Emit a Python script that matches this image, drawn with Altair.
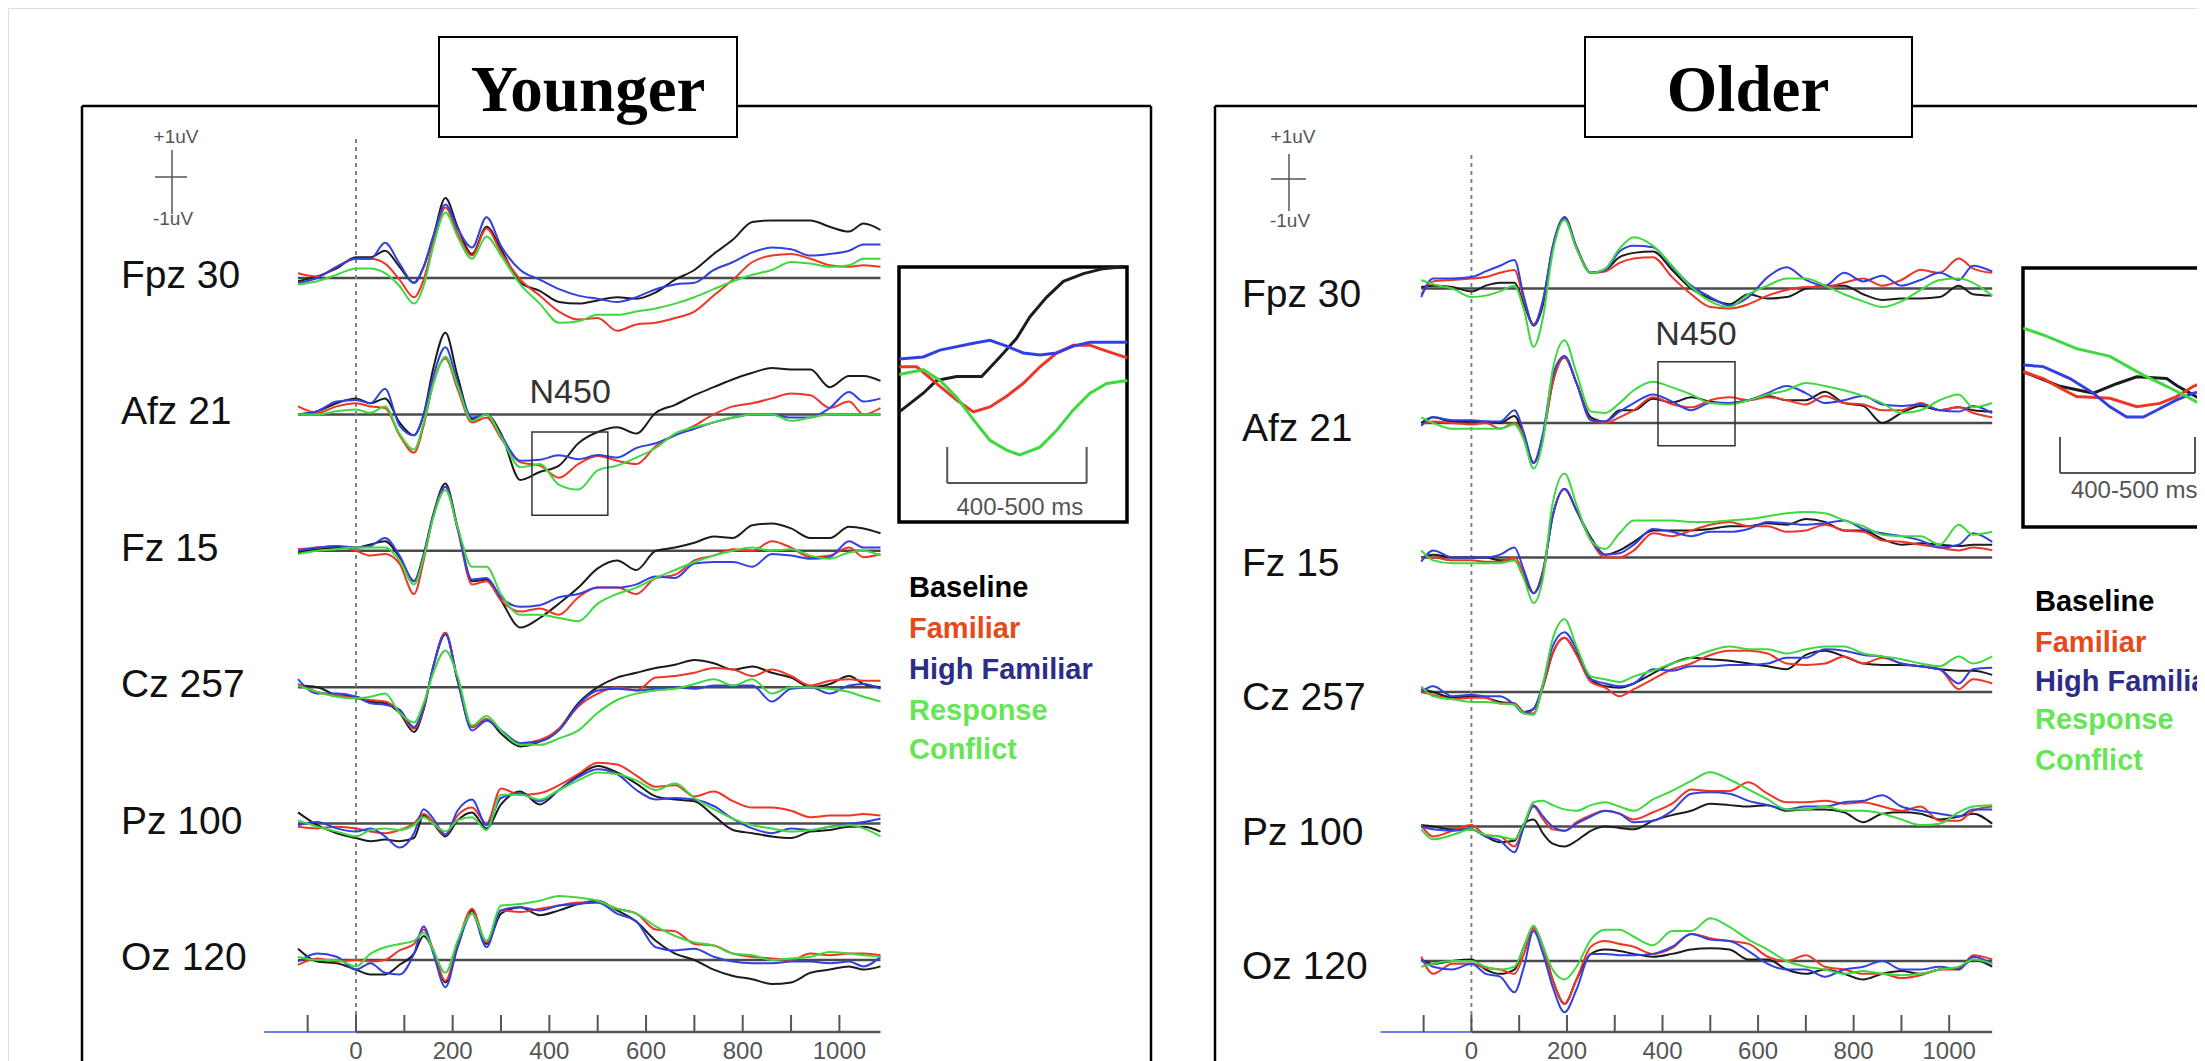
import altair as alt
import pandas as pd

# ---------------------------------------------------------------- labels
CONDITIONS = ["Baseline", "Familiar", "High Familiar", "Response Conflict"]
LINE_COLORS = ["#1c1c1c", "#ee3526", "#3340e0", "#3fd83f"]
LEGEND_TEXT = ["Baseline", "Familiar", "High Familiar", "Response", "Conflict"]
LEGEND_COLORS = ["#000000", "#e64a19", "#2d2d86", "#66e655", "#66e655"]
CHANNELS = ["Fpz 30", "Afz 21", "Fz 15", "Cz 257", "Pz 100", "Oz 120"]
PANEL_TITLES = ["Younger", "Older"]
TICKS = [-100, 0, 100, 200, 300, 400, 500, 600, 700, 800, 900, 1000]
TICK_LABELS = [0, 200, 400, 600, 800, 1000]
WINDOW_LABEL = "400-500 ms"
COMPONENT = "N450"

# ---------------------------------------------------------------- time grids (ms)
T_YOUNGER = [-120, -80, -40, 0, 30, 60, 90, 120, 140, 160, 185, 210, 240, 270, 300, 340, 380, 420,
             460, 500, 540, 580, 620, 660, 700, 740, 780, 820, 860, 900, 940, 980, 1020, 1050, 1085]
T_OLDER = [-105, -80, -40, 0, 30, 60, 90, 110, 130, 150, 170, 195, 220, 250, 280, 310, 340, 380,
           420, 460, 500, 540, 580, 620, 660, 700, 740, 780, 820, 860, 900, 940, 980, 1020, 1050, 1090]

# ---------------------------------------------------------------- Younger (uV)
YNG_FPZ_BL = [-0.1, 0.05, 0.3, 0.65, 0.65, 0.85, 0.35, -0.15, 0.35, 1.3, 2.5, 1.6, 0.75, 1.6, 0.9, -0.15, -0.4, -0.75, -0.8, -0.7, -0.6, -0.65, -0.45, -0.05, 0.25, 0.75, 1.2, 1.75, 1.8, 1.8, 1.8, 1.6, 1.45, 1.7, 1.5]
YNG_FPZ_FA = [0.15, 0.05, 0.35, 0.6, 0.6, 0.45, -0.05, -0.6, -0.05, 1.1, 2.2, 1.4, 0.7, 1.55, 0.8, -0.05, -0.55, -1.05, -1.3, -1.25, -1.65, -1.45, -1.4, -1.25, -1.05, -0.55, -0.05, 0.5, 0.7, 0.75, 0.6, 0.4, 0.35, 0.4, 0.35]
YNG_FPZ_HF = [-0.15, 0, 0.35, 0.6, 0.6, 1.1, 0.45, -0.15, 0.35, 1.3, 2.3, 1.55, 0.95, 1.9, 1.0, 0.25, -0.05, -0.35, -0.55, -0.65, -0.75, -0.6, -0.35, -0.2, -0.15, 0.25, 0.5, 0.8, 0.95, 0.9, 0.7, 0.75, 0.85, 1.05, 1.05]
YNG_FPZ_RC = [-0.2, -0.1, 0.1, 0.3, 0.3, 0.15, -0.25, -0.8, -0.25, 1.0, 2.05, 1.3, 0.6, 1.3, 0.7, -0.2, -0.8, -1.4, -1.35, -1.15, -1.15, -1.05, -0.95, -0.8, -0.6, -0.35, -0.1, 0.1, 0.25, 0.5, 0.45, 0.35, 0.4, 0.6, 0.6]

YNG_AFZ_BL = [0, 0.1, 0.35, 0.5, 0.35, 0.5, -0.25, -0.65, 0, 1.45, 2.55, 1.2, -0.15, 0, -0.6, -2.05, -1.8, -1.6, -0.9, -0.55, -0.4, -0.6, 0.05, 0.3, 0.6, 0.85, 1.1, 1.3, 1.45, 1.4, 1.4, 0.85, 1.2, 1.2, 1.05]
YNG_AFZ_FA = [0.25, 0.05, 0.25, 0.35, 0.25, 0.2, -0.65, -1.2, -0.35, 1.0, 1.75, 0.8, -0.25, -0.1, -0.75, -1.5, -1.6, -1.98, -1.55, -1.3, -1.45, -1.55, -1.0, -0.65, -0.35, 0, 0.25, 0.35, 0.5, 0.65, 0.6, 0.2, 0.4, 0, 0.2]
YNG_AFZ_HF = [0, 0.1, 0.4, 0.45, 0.35, 0.8, -0.35, -0.65, 0, 1.2, 2.1, 1.0, -0.1, 0, -0.65, -1.45, -1.42, -1.28, -1.4, -1.27, -1.35, -1.05, -0.9, -0.65, -0.45, -0.25, -0.1, 0, 0, -0.1, -0.1, 0.2, 0.7, 0.4, 0.5]
YNG_AFZ_RC = [0, 0, 0.1, 0.15, 0.05, 0.25, -0.6, -1.1, -0.25, 0.95, 1.8, 0.9, -0.2, 0, -0.7, -1.65, -1.55, -2.2, -2.35, -1.75, -1.6, -1.35, -1.05, -0.6, -0.4, -0.25, -0.1, 0, 0, -0.2, -0.1, 0, 0, 0, 0]

YNG_FZ_BL = [-0.05, 0.05, 0.1, 0.1, 0.2, 0.3, -0.2, -0.95, -0.1, 1.15, 2.1, 0.75, -0.95, -0.9, -1.55, -2.4, -2.1, -1.65, -1.15, -0.55, -0.3, -0.6, 0, 0.1, 0.25, 0.45, 0.4, 0.8, 0.85, 0.7, 0.4, 0.4, 0.75, 0.7, 0.55]
YNG_FZ_FA = [0.05, 0.1, 0.15, 0, -0.15, -0.1, -0.4, -1.35, -0.3, 1.1, 2.0, 0.7, -1.05, -0.95, -1.55, -1.9, -1.8, -2.0, -1.45, -1.15, -1.15, -1.35, -0.85, -0.75, -0.3, -0.15, 0.05, 0, 0.3, 0.1, -0.2, -0.15, 0.1, -0.2, -0.1]
YNG_FZ_HF = [0, 0.1, 0.15, 0.1, 0.15, 0.4, -0.15, -0.95, -0.15, 1.1, 2.0, 0.7, -0.9, -0.85, -1.45, -1.75, -1.7, -1.45, -1.35, -1.15, -1.15, -1.05, -0.8, -0.85, -0.4, -0.35, -0.35, -0.5, -0.1, -0.15, -0.25, -0.2, 0.3, 0.1, 0.1]
YNG_FZ_RC = [-0.1, 0, 0.05, 0.1, 0.1, 0.1, -0.3, -1.05, -0.2, 1.05, 1.9, 0.75, -0.5, -0.5, -1.35, -2.0, -2.0, -2.1, -2.2, -1.65, -1.35, -1.15, -0.85, -0.6, -0.35, -0.15, 0, 0.1, 0, 0.05, -0.15, -0.25, -0.05, 0, -0.15]

YNG_CZ_BL = [0.05, 0, -0.25, -0.3, -0.45, -0.5, -0.8, -1.4, -0.7, 0.65, 1.7, 0.2, -1.25, -1.0, -1.45, -1.85, -1.7, -1.3, -0.5, 0, 0.3, 0.45, 0.6, 0.7, 0.85, 0.75, 0.55, 0.65, 0.45, 0.3, 0, 0.1, 0.35, 0.1, 0]
YNG_CZ_FA = [0.1, -0.15, -0.25, -0.35, -0.4, -0.45, -0.75, -1.3, -0.65, 0.65, 1.7, 0.25, -1.25, -1.0, -1.35, -1.75, -1.65, -1.3, -0.6, -0.2, 0, -0.1, 0.3, 0.35, 0.45, 0.6, 0.55, 0.35, 0.55, 0.35, 0.05, 0.2, 0.25, 0.2, 0.2]
YNG_CZ_HF = [0.25, -0.2, -0.2, -0.3, -0.5, -0.55, -0.7, -1.25, -0.6, 0.65, 1.65, 0.25, -1.35, -1.05, -1.35, -1.75, -1.7, -1.35, -0.55, -0.1, -0.05, -0.1, -0.05, 0, -0.05, 0.05, 0.05, 0.05, -0.45, -0.05, 0, -0.2, 0.05, 0.1, -0.05]
YNG_CZ_RC = [0.05, -0.15, -0.3, -0.35, -0.3, -0.2, -0.8, -1.1, -0.5, 0.45, 1.15, 0.35, -1.2, -0.9, -1.35, -1.8, -1.8, -1.6, -1.35, -0.8, -0.4, -0.2, -0.1, -0.05, 0.1, 0.25, 0.05, 0.25, -0.2, 0, 0, -0.05, -0.15, -0.3, -0.45]

YNG_PZ_BL = [0.35, -0.05, -0.3, -0.45, -0.55, -0.5, -0.55, -0.45, 0.25, 0, -0.4, 0.1, 0.35, -0.15, 0.6, 1.0, 0.6, 1.05, 1.5, 1.8, 1.6, 1.25, 0.85, 0.75, 0.7, 0.25, -0.2, -0.3, -0.4, -0.45, -0.25, -0.2, -0.1, -0.1, -0.25]
YNG_PZ_FA = [-0.1, -0.15, -0.1, -0.15, -0.25, -0.3, -0.2, 0, 0.3, 0.05, -0.35, 0.25, 0.5, 0, 1.1, 0.9, 0.95, 1.2, 1.55, 1.9, 1.85, 1.5, 1.15, 1.2, 0.85, 1.0, 0.7, 0.5, 0.5, 0.4, 0.2, 0.25, 0.25, 0.3, 0.25]
YNG_PZ_HF = [-0.05, 0.05, -0.15, -0.25, -0.15, -0.4, -0.75, -0.3, 0.45, 0.15, -0.35, 0.4, 0.75, -0.05, 0.8, 0.95, 0.7, 1.05, 1.45, 1.7, 1.55, 1.05, 0.75, 0.8, 0.75, 0.55, 0.15, -0.15, -0.3, -0.15, -0.2, -0.1, 0, 0.05, 0.15]
YNG_PZ_RC = [0.1, -0.1, -0.25, -0.4, -0.2, -0.15, -0.2, -0.05, 0.2, 0, -0.25, 0.1, 0.2, -0.2, 0.9, 0.9, 0.75, 1.05, 1.35, 1.6, 1.55, 1.35, 1.05, 1.25, 0.8, 0.45, 0.15, -0.05, -0.15, -0.25, -0.2, -0.1, -0.05, -0.15, -0.4]

YNG_OZ_BL = [0.35, -0.05, -0.1, -0.3, -0.45, -0.45, -0.15, 0.2, 0.75, 0.3, -0.7, 0.4, 1.55, 0.5, 1.45, 1.65, 1.4, 1.55, 1.75, 1.85, 1.55, 1.2, 0.6, 0.2, 0, -0.3, -0.5, -0.6, -0.75, -0.7, -0.4, -0.3, -0.2, -0.3, -0.2]
YNG_OZ_FA = [-0.15, 0.05, -0.05, 0, -0.05, 0, 0.3, 0.5, 0.95, 0.3, -0.65, 0.5, 1.6, 0.55, 1.55, 1.5, 1.6, 1.7, 1.8, 1.8, 1.6, 1.45, 0.95, 0.9, 0.5, 0.45, 0.2, 0.1, 0.05, 0, 0.2, 0.15, 0.2, 0.2, 0.15]
YNG_OZ_HF = [-0.05, 0.2, 0.1, -0.3, -0.1, -0.4, -0.45, 0.2, 1.05, 0.2, -0.85, 0.4, 1.45, 0.4, 1.55, 1.65, 1.55, 1.7, 1.75, 1.8, 1.45, 1.2, 0.4, 0.3, 0.35, 0.1, -0.05, -0.1, -0.1, -0.05, -0.05, -0.1, -0.05, -0.2, 0.1]
YNG_OZ_RC = [0.1, 0, 0, -0.2, 0.2, 0.4, 0.5, 0.6, 0.85, 0.3, -0.4, 0.6, 1.45, 0.6, 1.7, 1.75, 1.85, 2.0, 1.95, 1.85, 1.6, 1.45, 1.05, 0.75, 0.55, 0.45, 0.2, 0.15, 0, 0.05, 0.1, 0.25, 0.2, 0.15, 0.1]

# ---------------------------------------------------------------- Older (uV)
OLD_FPZ_BL = [0.05, 0.1, 0.05, -0.1, 0.1, 0.2, 0.2, -0.55, -1.3, -0.55, 1.45, 2.5, 1.45, 0.55, 0.65, 1.1, 1.25, 1.3, 0.65, 0, -0.35, -0.55, -0.2, -0.35, -0.3, 0, 0.1, 0.1, -0.2, -0.4, -0.35, -0.35, -0.3, 0.1, -0.2, -0.25]
OLD_FPZ_FA = [-0.2, 0.25, 0.3, 0.35, 0.4, 0.55, 0.65, -0.4, -1.25, -0.4, 1.4, 2.45, 1.4, 0.55, 0.6, 0.9, 1.05, 1.1, 0.4, -0.2, -0.65, -0.7, -0.55, -0.25, -0.05, 0.05, 0.05, 0.2, 0.35, 0.1, 0.3, 0.65, 0.55, 1.05, 0.7, 0.55]
OLD_FPZ_HF = [-0.3, 0.35, 0.35, 0.4, 0.6, 0.8, 1.0, -0.3, -1.3, -0.4, 1.45, 2.5, 1.45, 0.55, 0.65, 1.3, 1.5, 1.45, 0.75, 0.1, -0.3, -0.6, -0.3, 0.4, 0.75, 0.3, 0.1, 0.55, 0.25, 0.45, 0.1, 0.3, 0.55, 0.3, 0.8, 0.6]
OLD_FPZ_RC = [0.3, 0.15, 0, -0.3, -0.25, -0.1, 0.1, -0.75, -2.05, -1.0, 1.25, 2.4, 1.4, 0.55, 0.7, 1.4, 1.8, 1.5, 0.8, 0.05, -0.45, -0.65, -0.2, 0.1, 0.35, 0.35, 0.1, -0.2, -0.45, -0.65, -0.45, -0.05, 0.3, 0.35, 0.2, -0.25]

OLD_AFZ_BL = [0, 0.2, 0.05, 0.05, 0.05, 0, 0.25, -0.45, -1.4, -0.45, 1.4, 2.3, 1.4, 0.2, 0.05, 0.45, 0.45, 0.85, 0.72, 0.9, 0.75, 0.7, 0.8, 0.95, 0.8, 0.8, 1.1, 0.7, 0.6, 0, 0.35, 0.6, 0.45, 0.55, 0.45, 0.4]
OLD_AFZ_FA = [-0.05, 0.05, 0, -0.05, 0, -0.2, 0, -0.45, -1.4, -0.45, 1.4, 2.3, 1.4, 0.1, 0, 0.2, 0.45, 0.9, 0.66, 0.55, 0.8, 0.9, 0.8, 0.9, 0.8, 0.65, 0.95, 0.7, 0.65, 0.45, 0.45, 0.7, 0.45, 0.55, 0.35, 0.2]
OLD_AFZ_HF = [-0.1, 0.2, 0.1, 0.1, 0.05, 0.05, 0.45, -0.35, -1.4, -0.35, 1.65, 2.35, 1.4, 0.1, 0.05, 0.4, 0.7, 1.0, 0.75, 0.45, 0.7, 0.7, 0.8, 1.05, 1.3, 1.05, 0.7, 0.8, 0.95, 0.65, 0.6, 0.65, 0.45, 0.4, 0.6, 0.35]
OLD_AFZ_RC = [0.2, 0, -0.2, -0.2, -0.2, -0.2, -0.05, -0.6, -1.6, -0.6, 1.85, 2.9, 1.75, 0.4, 0.35, 0.7, 1.15, 1.45, 1.25, 1.0, 0.7, 0.65, 0.8, 1.0, 1.15, 1.4, 1.3, 1.15, 0.95, 0.7, 0.35, 0.45, 0.8, 1.0, 0.55, 0.7]

OLD_FZ_BL = [0, 0.1, 0, 0, 0, -0.1, -0.1, -0.7, -1.25, -0.45, 1.45, 2.4, 1.65, 0.7, 0.1, 0.25, 0.55, 0.95, 0.95, 0.95, 1.0, 1.1, 1.1, 1.2, 1.15, 1.35, 1.25, 0.95, 0.95, 0.65, 0.45, 0.5, 0.45, 0.4, 0.45, 0.45]
OLD_FZ_FA = [0, 0, -0.1, -0.1, -0.15, -0.15, 0, -0.55, -1.25, -0.5, 1.45, 2.4, 1.65, 0.6, 0, 0, 0.25, 0.85, 0.75, 0.95, 1.15, 1.25, 1.1, 1.1, 0.9, 0.95, 1.15, 0.95, 0.9, 0.6, 0.55, 0.45, 0.35, 0.25, 0.35, 0.25]
OLD_FZ_HF = [-0.15, 0.25, 0, 0, 0, 0.1, 0.35, -0.45, -1.25, -0.55, 1.45, 2.4, 1.65, 0.65, 0.1, 0.15, 0.45, 1.0, 0.9, 0.75, 0.9, 0.9, 1.0, 1.25, 1.2, 1.15, 1.2, 1.3, 1.0, 0.85, 0.75, 0.6, 0.35, 0.45, 0.85, 0.55]
OLD_FZ_RC = [0.25, -0.1, -0.2, -0.2, -0.2, -0.2, -0.1, -0.75, -1.6, -0.7, 1.9, 2.95, 1.85, 0.6, 0.3, 0.85, 1.3, 1.3, 1.3, 1.25, 1.25, 1.3, 1.35, 1.45, 1.55, 1.6, 1.55, 1.3, 1.1, 0.8, 0.75, 0.75, 0.45, 1.15, 0.8, 0.9]

OLD_CZ_BL = [0.1, 0, -0.2, -0.15, -0.2, -0.35, -0.4, -0.7, -0.6, 0.2, 1.35, 1.9, 1.35, 0.45, 0.2, 0.15, 0.3, 0.65, 1.0, 1.2, 1.15, 1.1, 1.0, 0.9, 0.8, 1.3, 1.45, 1.25, 1.0, 0.95, 0.95, 0.9, 0.8, 0.75, 0.75, 0.6]
OLD_CZ_FA = [0, -0.1, -0.25, -0.2, -0.2, -0.4, -0.4, -0.7, -0.75, 0.2, 1.35, 1.9, 1.3, 0.35, 0.15, -0.15, 0.1, 0.45, 0.8, 1.0, 1.3, 1.45, 1.45, 1.35, 1.0, 0.95, 1.0, 1.25, 1.0, 1.2, 1.0, 0.9, 0.8, 0.1, 0.45, 0.3]
OLD_CZ_HF = [0, 0.2, -0.15, -0.1, -0.15, -0.15, -0.45, -0.75, -0.6, 0.3, 1.6, 2.1, 1.5, 0.45, 0.3, 0.2, 0.3, 0.8, 0.75, 0.9, 0.9, 0.95, 0.95, 1.0, 1.2, 1.2, 1.5, 1.45, 1.3, 1.25, 1.0, 0.9, 0.8, 0.3, 0.8, 0.85]
OLD_CZ_RC = [0.2, -0.15, -0.25, -0.35, -0.35, -0.4, -0.45, -0.75, -0.8, 0.3, 1.85, 2.55, 1.6, 0.55, 0.45, 0.35, 0.55, 0.75, 1.0, 1.2, 1.45, 1.6, 1.5, 1.5, 1.35, 1.5, 1.6, 1.6, 1.35, 1.25, 1.15, 1.0, 0.9, 1.25, 1.0, 1.25]

OLD_PZ_BL = [0.05, 0, -0.1, -0.1, -0.35, -0.55, -0.5, 0.1, 0.25, -0.25, -0.6, -0.7, -0.5, -0.15, 0, -0.05, -0.1, 0.2, 0.4, 0.55, 0.8, 0.75, 0.7, 0.75, 0.55, 0.6, 0.6, 0.5, 0.15, 0.45, 0.5, 0.45, 0.25, 0.35, 0.45, 0.1]
OLD_PZ_FA = [0.05, -0.35, -0.15, 0.05, -0.3, -0.35, -0.7, 0, 0.7, 0.25, -0.1, -0.15, 0.15, 0.4, 0.55, 0.45, 0.25, 0.5, 0.8, 1.3, 1.25, 1.25, 1.55, 1.15, 0.85, 0.85, 0.9, 0.8, 0.85, 0.7, 0.55, 0.7, 0.2, 0.2, 0.55, 0.7]
OLD_PZ_HF = [0, -0.1, -0.15, -0.1, -0.35, -0.5, -0.9, 0, 0.75, 0.35, 0, -0.15, 0.1, 0.35, 0.55, 0.45, 0.15, 0.2, 0.55, 1.15, 1.2, 1.15, 0.9, 0.75, 0.6, 0.7, 0.7, 0.85, 0.9, 1.1, 0.7, 0.55, 0.45, 0.35, 0.6, 0.6]
OLD_PZ_RC = [-0.1, -0.45, -0.3, -0.1, -0.3, -0.35, -0.45, 0.1, 0.85, 0.9, 0.75, 0.6, 0.55, 0.75, 0.85, 0.7, 0.55, 0.95, 1.25, 1.6, 1.9, 1.65, 1.3, 0.95, 0.6, 0.6, 0.7, 0.55, 0.55, 0.45, 0.25, 0.05, 0.1, 0.5, 0.7, 0.75]

OLD_OZ_BL = [0.05, -0.1, 0, 0.05, -0.3, -0.45, -0.3, 0.5, 1.15, 0.5, -0.65, -1.5, -0.65, 0.25, 0.4, 0.35, 0.25, 0.15, 0.25, 0.4, 0.45, 0.4, 0.05, 0.05, -0.3, -0.45, -0.3, -0.45, -0.65, -0.45, -0.35, -0.45, -0.3, -0.25, 0.05, -0.2]
OLD_OZ_FA = [0.15, -0.45, -0.1, -0.1, -0.25, -0.3, -0.45, 0.25, 1.15, 0.45, -0.65, -1.5, -0.65, 0.5, 0.7, 0.6, 0.5, 0.25, 0.45, 0.95, 0.8, 0.7, 0.6, 0.15, 0, 0.2, -0.2, -0.3, -0.45, -0.45, -0.6, -0.5, -0.3, -0.3, 0.2, 0.05]
OLD_OZ_HF = [0.05, -0.2, -0.3, -0.1, -0.45, -0.55, -1.1, -0.2, 1.05, 0.25, -0.9, -1.8, -1.0, 0.25, 0.25, 0.2, 0.2, 0.25, 0.5, 0.95, 0.75, 0.7, 0.35, -0.1, -0.3, -0.3, -0.55, -0.3, -0.2, 0, -0.3, -0.3, -0.2, -0.3, 0.15, -0.1]
OLD_OZ_RC = [-0.2, -0.1, 0, 0, -0.2, -0.3, -0.2, 0.5, 1.25, 0.5, -0.3, -0.65, -0.2, 0.75, 1.1, 1.1, 0.85, 0.55, 1.05, 1.05, 1.5, 1.2, 0.75, 0.4, 0, -0.2, -0.3, -0.45, -0.35, -0.45, -0.5, -0.45, -0.3, -0.2, 0.05, -0.1]

# ---------------------------------------------------------------- magnified Afz windows (ms, uV)
YIN_T_BL = [364, 380.5, 389.7, 403.5, 420.7, 433.3, 444.8, 454, 465.5, 477, 490.8, 504.5, 518]
YIN_BL = [-1.98, -1.79, -1.66, -1.62, -1.62, -1.42, -1.23, -1.01, -0.81, -0.65, -0.57, -0.52, -0.5]
YIN_T_FA = [364, 376, 392, 403.5, 415, 426.4, 437.9, 449.4, 460.9, 472.3, 483.8, 495.3, 506.8, 521]
YIN_FA = [-1.52, -1.52, -1.72, -1.86, -1.98, -1.93, -1.82, -1.69, -1.52, -1.38, -1.30, -1.30, -1.36, -1.43]
YIN_T_HF = [364, 380.5, 392, 415, 426.4, 437.9, 449.4, 460.9, 472.3, 483.8, 495.3, 521]
YIN_HF = [-1.44, -1.42, -1.35, -1.28, -1.25, -1.31, -1.38, -1.40, -1.38, -1.31, -1.27, -1.27]
YIN_T_RC = [364, 380.5, 392, 403.5, 415, 426.4, 437.9, 447, 460.9, 472.3, 483.8, 495.3, 506.8, 521]
YIN_RC = [-1.60, -1.55, -1.66, -1.83, -2.06, -2.27, -2.37, -2.42, -2.34, -2.17, -1.96, -1.79, -1.69, -1.66]

OIN_T_BL = [372.8, 400, 424.7, 442, 456.8, 479, 486.4, 496.3, 507.4]
OIN_BL = [0.96, 0.79, 0.71, 0.82, 0.90, 0.88, 0.80, 0.71, 0.61]
OIN_T_FA = [372.8, 387.6, 400, 412.3, 437, 456.8, 474, 486.4, 498.8, 507.4]
OIN_FA = [0.96, 0.88, 0.77, 0.67, 0.65, 0.55, 0.59, 0.67, 0.79, 0.84]
OIN_T_HF = [372.8, 387.6, 407.4, 424.7, 437, 449.4, 461.7, 471.6, 486.4, 498.8, 507.4]
OIN_HF = [1.04, 1.02, 0.88, 0.71, 0.55, 0.43, 0.43, 0.51, 0.63, 0.71, 0.73]
OIN_T_RC = [372.8, 387.6, 412.3, 437, 461.7, 479, 493.8, 507.4]
OIN_RC = [1.47, 1.39, 1.23, 1.14, 0.92, 0.79, 0.67, 0.55]

# N450 windows: (t0, t1, uV top, uV bottom) on Afz
YNG_N450_BOX = [364, 521, -0.55, -3.15]
OLD_N450_BOX = [390.5, 551.7, 2.15, -0.8]
YNG_BRACKET = [397, 493]
OLD_BRACKET = [400, 500]

# ---------------------------------------------------------------- layout (pixels of the plot area)
W, H = 2189, 1053
SANS = "Liberation Sans, Arial, Helvetica, sans-serif"
SERIF = "Liberation Serif, Times New Roman, serif"
AXIS_PX = 1024


def xdom(px0, v0, ppu):
    return [v0 - px0 / ppu, v0 + (W - px0) / ppu]


def ydom(py0, v0, ppu):
    return [v0 - (H - py0) / ppu, v0 + py0 / ppu]


def sc(dom):
    return alt.Scale(domain=dom, nice=False, zero=False)


COLOR = alt.Scale(domain=CONDITIONS, range=LINE_COLORS)


def long_table(times, chan_arrays, row_uv):
    rows = []
    for k, (chan, series) in enumerate(zip(CHANNELS, chan_arrays)):
        for cond, vals in zip(CONDITIONS, series):
            assert len(vals) == len(times), (chan, cond, len(vals))
            for t, v in zip(times, vals):
                rows.append({"t": t, "uv": v, "chan": chan, "cond": cond, "Y": v - k * row_uv})
    return pd.DataFrame(rows)


def panel(df, times, xs, ys, row_uv, label_px, label_dy, zero_top, box, n450_t, n450_uv):
    X = lambda f: alt.X(f, type="quantitative", scale=xs, axis=None)
    Y = lambda f: alt.Y(f, type="quantitative", scale=ys, axis=None)
    base_df = pd.DataFrame({"chan": CHANNELS, "Y": [-k * row_uv for k in range(len(CHANNELS))],
                            "t0": times[0], "t1": times[-1]})
    baselines = alt.Chart(base_df).mark_rule(color="#4a4a4a", strokeWidth=2.5).encode(
        x=X("t0"), x2="t1", y=Y("Y"))
    zero = alt.Chart(pd.DataFrame({"t": [0]})).mark_rule(
        color="#808080", strokeWidth=2, strokeDash=[4, 4]).encode(
        x=X("t"), y=alt.value(zero_top), y2=alt.value(AXIS_PX))
    lines = alt.Chart(df).mark_line(strokeWidth=2, interpolate="monotone").encode(
        x=X("t"), y=Y("Y"), color=alt.Color("cond:N", scale=COLOR, legend=None), detail="chan:N")
    axis_grey = alt.Chart(pd.DataFrame({"t0": [0], "t1": [times[-1]]})).mark_rule(
        color="#555555", strokeWidth=2.5).encode(x=X("t0"), x2="t1", y=alt.value(AXIS_PX))
    axis_blue = alt.Chart(pd.DataFrame({"t0": [-190], "t1": [0]})).mark_rule(
        color="#6f7fe0", strokeWidth=2).encode(x=X("t0"), x2="t1", y=alt.value(AXIS_PX))
    ticks = alt.Chart(pd.DataFrame({"t": TICKS})).mark_rule(color="#555555", strokeWidth=2).encode(
        x=X("t"), y=alt.value(AXIS_PX - 17), y2=alt.value(AXIS_PX))
    tick_labels = alt.Chart(pd.DataFrame({"t": TICK_LABELS})).mark_text(
        font=SANS, fontSize=24, color="#555555", baseline="top", align="center").encode(
        x=X("t"), y=alt.value(AXIS_PX + 8), text=alt.Text("t:Q", format="d"))
    labels = alt.Chart(base_df).mark_text(
        font=SANS, fontSize=39, color="#111111", align="left", baseline="alphabetic", dy=label_dy).encode(
        x=alt.value(label_px), y=Y("Y"), text="chan:N")
    box_df = pd.DataFrame({"t0": [box[0]], "t1": [box[1]], "y0": [box[2] - row_uv], "y1": [box[3] - row_uv]})
    n450_box = alt.Chart(box_df).mark_rect(fillOpacity=0, stroke="#333333", strokeWidth=1.5).encode(
        x=X("t0"), x2="t1", y=Y("y0"), y2="y1")
    n450_text = alt.Chart(pd.DataFrame({"t": [n450_t], "Y": [n450_uv - row_uv], "s": [COMPONENT]})).mark_text(
        font=SANS, fontSize=34, color="#333333", align="center", baseline="alphabetic").encode(
        x=X("t"), y=Y("Y"), text="s:N")
    return alt.layer(baselines, zero, lines, axis_grey, axis_blue, ticks, tick_labels, labels, n450_box, n450_text)


def inset(series, xs, ys, bracket, br_top, br_bot, label_t, label_y):
    X = lambda f: alt.X(f, type="quantitative", scale=xs, axis=None)
    Y = lambda f: alt.Y(f, type="quantitative", scale=ys, axis=None)
    rows = []
    for cond, (ts, vs) in zip(CONDITIONS, series):
        for t, v in zip(ts, vs):
            rows.append({"t": t, "v": v, "cond": cond})
    df = pd.DataFrame(rows)
    lines = alt.Chart(df).mark_line(strokeWidth=3).encode(
        x=X("t"), y=Y("v"), color=alt.Color("cond:N", scale=COLOR, legend=None))
    br_v = alt.Chart(pd.DataFrame({"t": bracket})).mark_rule(color="#555555", strokeWidth=2).encode(
        x=X("t"), y=alt.value(br_top), y2=alt.value(br_bot))
    br_h = alt.Chart(pd.DataFrame({"t0": [bracket[0]], "t1": [bracket[1]]})).mark_rule(
        color="#555555", strokeWidth=2).encode(x=X("t0"), x2="t1", y=alt.value(br_bot))
    lab = alt.Chart(pd.DataFrame({"t": [label_t], "s": [WINDOW_LABEL]})).mark_text(
        font=SANS, fontSize=24, color="#555555", align="center", baseline="alphabetic").encode(
        x=X("t"), y=alt.value(label_y), text="s:N")
    return alt.layer(lines, br_v, br_h, lab)


def px_rules(rows, color, width):
    df = pd.DataFrame(rows, columns=["x", "y", "x2", "y2"])
    return alt.Chart(df).mark_rule(color=color, strokeWidth=width).encode(
        x=alt.X("x:Q", scale=None, axis=None), y=alt.Y("y:Q", scale=None, axis=None), x2="x2:Q", y2="y2:Q")


def px_rects(rows, stroke, width):
    df = pd.DataFrame(rows, columns=["x", "y", "x2", "y2"])
    return alt.Chart(df).mark_rect(fill="white", stroke=stroke, strokeWidth=width).encode(
        x=alt.X("x:Q", scale=None, axis=None), y=alt.Y("y:Q", scale=None, axis=None), x2="x2:Q", y2="y2:Q")


def px_texts(rows, **kw):
    df = pd.DataFrame(rows, columns=["x", "y", "s", "c"])
    return alt.Chart(df).mark_text(**kw).encode(
        x=alt.X("x:Q", scale=None, axis=None), y=alt.Y("y:Q", scale=None, axis=None),
        text="s:N", color=alt.Color("c:N", scale=None))


# ---------------------------------------------------------------- decoration
frames = px_rules([(74, 98, 1143, 98), (74, 98, 74, 1070), (1143, 98, 1143, 1070),
                   (1207, 98, 2200, 98), (1207, 98, 1207, 1070)], "#000000", 2.5)
title_boxes = px_rects([(431, 29, 729, 129), (1577, 29, 1904, 129)], "#000000", 2)
titles = px_texts([(580, 103, PANEL_TITLES[0], "#000"), (1740, 103, PANEL_TITLES[1], "#000")],
                  font=SERIF, fontSize=65, fontWeight="bold", align="center", baseline="alphabetic")
cross = px_rules([(164, 142, 164, 206), (147, 169, 179, 169),
                  (1281, 146, 1281, 203), (1263, 171, 1298, 171)], "#555555", 1.5)
cross_txt = px_texts([(168, 135, "+1uV", "#555"), (165, 217, "-1uV", "#555"),
                      (1285, 135, "+1uV", "#555"), (1282, 219, "-1uV", "#555")],
                     font=SANS, fontSize=19, align="center", baseline="alphabetic")
inset_frames = px_rects([(891, 259, 1119, 514), (2015, 260, 2262, 519)], "#000000", 3.5)
leg_rows = []
for i, (s, c) in enumerate(zip(LEGEND_TEXT, LEGEND_COLORS)):
    leg_rows.append((901, [589, 630, 671, 712, 751][i], s, c))
    leg_rows.append((2027, [603, 644, 683, 721, 762][i], s, c))
legend = px_texts(leg_rows, font=SANS, fontSize=29, fontWeight="bold", align="left", baseline="alphabetic")

deco = alt.layer(frames, title_boxes, titles, cross, cross_txt, inset_frames, legend)

# ---------------------------------------------------------------- panels
L_ROW = 136.4 / 32.0
R_ROW = 134.5 / 28.5

yng = long_table(T_YOUNGER, [
    [YNG_FPZ_BL, YNG_FPZ_FA, YNG_FPZ_HF, YNG_FPZ_RC],
    [YNG_AFZ_BL, YNG_AFZ_FA, YNG_AFZ_HF, YNG_AFZ_RC],
    [YNG_FZ_BL, YNG_FZ_FA, YNG_FZ_HF, YNG_FZ_RC],
    [YNG_CZ_BL, YNG_CZ_FA, YNG_CZ_HF, YNG_CZ_RC],
    [YNG_PZ_BL, YNG_PZ_FA, YNG_PZ_HF, YNG_PZ_RC],
    [YNG_OZ_BL, YNG_OZ_FA, YNG_OZ_HF, YNG_OZ_RC]], L_ROW)
old = long_table(T_OLDER, [
    [OLD_FPZ_BL, OLD_FPZ_FA, OLD_FPZ_HF, OLD_FPZ_RC],
    [OLD_AFZ_BL, OLD_AFZ_FA, OLD_AFZ_HF, OLD_AFZ_RC],
    [OLD_FZ_BL, OLD_FZ_FA, OLD_FZ_HF, OLD_FZ_RC],
    [OLD_CZ_BL, OLD_CZ_FA, OLD_CZ_HF, OLD_CZ_RC],
    [OLD_PZ_BL, OLD_PZ_FA, OLD_PZ_HF, OLD_PZ_RC],
    [OLD_OZ_BL, OLD_OZ_FA, OLD_OZ_HF, OLD_OZ_RC]], R_ROW)

left = panel(yng, T_YOUNGER, sc(xdom(348.0, 0, 0.4834)), sc(ydom(270.0, 0, 32.0)), L_ROW,
             113, 10, 131, YNG_N450_BOX, 443, 0.36)
right = panel(old, T_OLDER, sc(xdom(1463.4, 0, 0.4778)), sc(ydom(280.5, 0, 28.5)), R_ROW,
              1234, 18, 147, OLD_N450_BOX, 470, 2.74)

inset_l = inset([(YIN_T_BL, YIN_BL), (YIN_T_FA, YIN_FA), (YIN_T_HF, YIN_HF), (YIN_T_RC, YIN_RC)],
                sc(xdom(891.3, 364, 1.4522)), sc(ydom(258.7, -0.5, 98.08)),
                YNG_BRACKET, 439, 475, 447, 507)
inset_r = inset([(OIN_T_BL, OIN_BL), (OIN_T_FA, OIN_FA), (OIN_T_HF, OIN_HF), (OIN_T_RC, OIN_RC)],
                sc(xdom(2052.0, 400, 1.35)), sc(ydom(262.0, 2.15, 85.5)),
                OLD_BRACKET, 429, 465, 455, 490)

chart = alt.layer(deco, left, right, inset_l, inset_r).resolve_scale(
    x="independent", y="independent"
).properties(
    width=W, height=H, padding=0, autosize=alt.AutoSizeParams(type="none")
).configure_view(stroke="transparent", strokeWidth=0).configure(background="white")

chart.save("out.html", embed_options={"renderer": "svg", "actions": False})
